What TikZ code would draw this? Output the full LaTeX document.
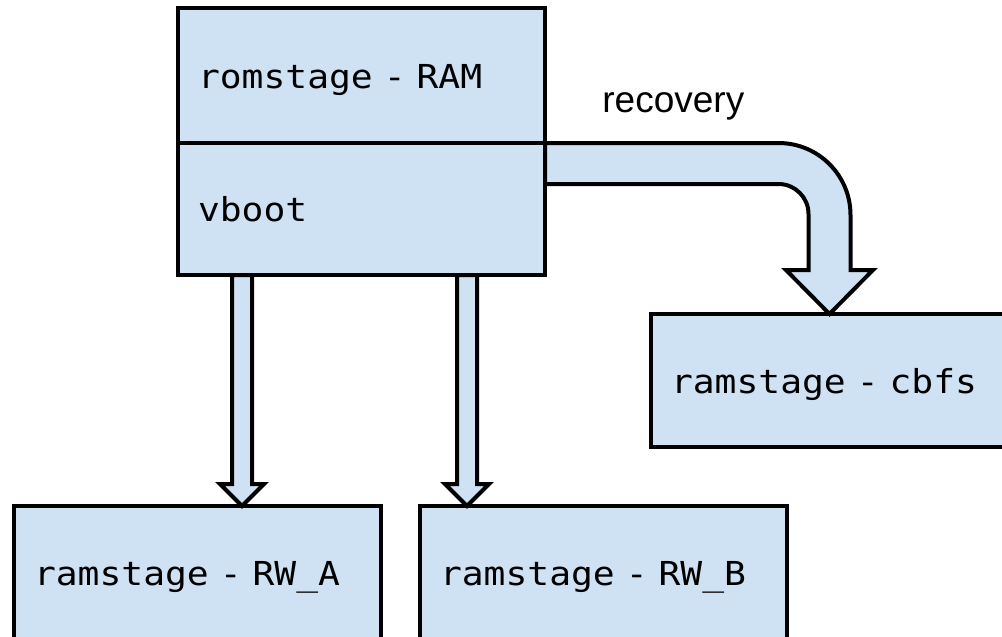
\documentclass[tikz,border=0pt]{standalone}
\usepackage{fontspec}
\setmonofont{DejaVu Sans Mono}[FakeStretch=1.1]
\newfontfamily\labelfont{Liberation Sans}
\usepackage{tikz}
\usetikzlibrary{positioning, calc}
\definecolor{stageblue}{HTML}{CFE2F3}

\begin{document}
\begin{tikzpicture}[x=0.5pt,y=-0.5pt,
    stage/.style={draw, fill=stageblue, line width=2pt, outer sep=0pt,
      inner xsep=10pt, text width=163.5pt, align=left, minimum height=66.5pt,
      text height=12.7pt, text depth=0pt,
      font=\ttfamily\fontsize{16.5}{19}\selectfont},
    blockarrow/.style={draw, fill=stageblue, line width=2pt, line join=miter}]
  \clip (0,0) rectangle (1002,637);

  \node[stage, anchor=north west, minimum height=67.5pt] (ram) at (178,8) {romstage - RAM};
  \node[stage, below=0pt of ram, minimum height=66pt] (vboot) {vboot};
  \node[stage, anchor=north west] (cbfs) at (651,314) {ramstage - cbfs};
  \node[stage, anchor=north west] (rwa) at (14,506) {ramstage - RW\_A};
  \node[stage, anchor=north west] (rwb) at (420,506) {ramstage - RW\_B};

  \foreach \dx/\dst in {64/rwa, 289/rwb} {
    \coordinate (top) at ($(vboot.south west)+(\dx,0)$);
    \coordinate (tip) at (top |- \dst.north);
    \draw[blockarrow] ($(top)+(-10,0)$) -- ($(tip)+(-10,-22)$) -- ($(tip)+(-22,-22)$)
      -- (tip) -- ($(tip)+(22,-22)$) -- ($(tip)+(10,-22)$) -- ($(top)+(10,0)$) -- cycle;
  }

  \coordinate (rtip) at ($(cbfs.north west)+(178.5,0)$);
  \draw[blockarrow] (vboot.north east) [rounded corners=36pt] -- ($(rtip)+(21,-171)$)
    [sharp corners] -- ($(rtip)+(21,-44)$) -- ($(rtip)+(43.5,-44)$) -- (rtip)
    -- ($(rtip)+(-43.5,-44)$) -- ($(rtip)+(-21,-44)$)
    [rounded corners=15pt] -- ($(rtip)+(-21,-130)$)
    [sharp corners] -- ($(vboot.north east)+(0,41)$) -- cycle;
  \node[anchor=base west, inner sep=0pt, font=\labelfont\fontsize{18.5}{22}\selectfont]
    (rec) at (602,112) {recovery};
\end{tikzpicture}
\end{document}
